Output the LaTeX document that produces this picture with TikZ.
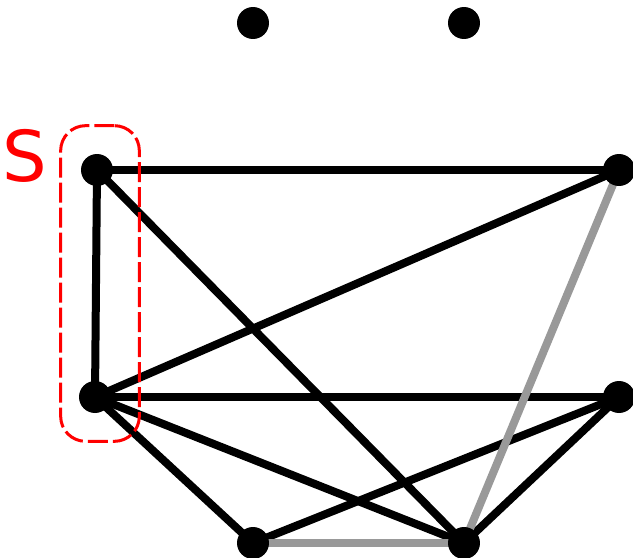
\documentclass[tikz,border=0pt]{standalone}
\usepackage{fontspec}
\setmainfont{DejaVu Sans}
\usetikzlibrary{positioning,fit,backgrounds}

\begin{document}
\begin{tikzpicture}[
    x=0.02cm, y=-0.02cm,
    vtx/.style={circle, fill=black, inner sep=0pt, minimum size=0.64cm},
    edg/.style={line width=0.16cm, black},
    edgGr/.style={line width=0.16cm, black!40},
    setbox/.style={draw=red, dashed, dash pattern=on 0.4cm off 0.1cm, line width=0.06cm, rounded corners=0.5cm},
  ]
  \useasboundingbox (0,0) rectangle (633,558);
  \clip (0,0) rectangle (633,558);

  %% ===== VERTICES =====
  \node[vtx] (t1) at (253, 23)  {};
  \node[vtx] (t2) at (464, 23)  {};
  \node[vtx] (a)  at (97, 170)  {};
  \node[vtx] (b)  at (619, 170) {};
  \node[vtx] (c)  at (95, 397)  {};
  \node[vtx] (d)  at (619, 397) {};
  \node[vtx] (e)  at (253, 543) {};
  \node[vtx] (f)  at (464, 543) {};

  %% ===== EDGES =====
  \begin{scope}[on background layer]
    \draw[edg] (a.center) -- (b.center);
    \draw[edg] (a.center) -- (c.center);
    \draw[edg] (a.center) -- (f.center);
    \draw[edg] (c.center) -- (b.center);
    \draw[edg] (c.center) -- (d.center);
    \draw[edg] (c.center) -- (e.center);
    \draw[edg] (c.center) -- (f.center);
    \draw[edg] (e.center) -- (d.center);
    \draw[edg] (f.center) -- (d.center);
    \draw[edgGr] (b.center) -- (f.center);
    \draw[edgGr] (e.center) -- (f.center);
  \end{scope}

  %% ===== SET S =====
  \node[setbox, fit=(a)(c), inner xsep=0.44cm, inner ysep=0.56cm, xshift=0.08cm] (boxS) {};
  \node[text=red, font=\fontsize{40}{48}\selectfont, inner sep=0pt] (lblS) at (25, 156) {S};

\end{tikzpicture}
\end{document}
